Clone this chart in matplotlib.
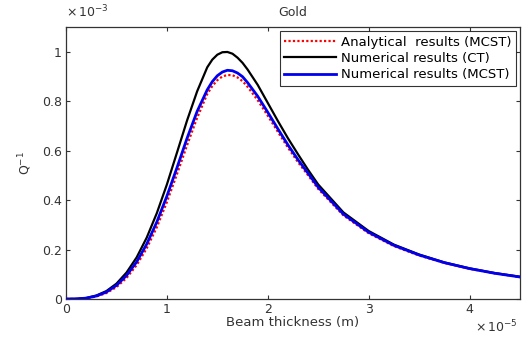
#!/usr/bin/env python3
"""Gold beam: thermoelastic damping Q^-1 vs beam thickness (MATLAB-style look)."""

import matplotlib
matplotlib.use('Agg')
import matplotlib.pyplot as plt

plt.rcParams['font.family'] = ['DejaVu Sans']
plt.rcParams['mathtext.default'] = 'regular'

# thickness in units of 1e-5 m, damping in units of 1e-3
THICKNESS = [0.0, 0.1, 0.2, 0.3, 0.4, 0.5, 0.6, 0.7, 0.8, 0.9, 1.0, 1.1, 1.2, 1.3,
             1.4, 1.45, 1.5, 1.55, 1.6, 1.65, 1.7, 1.75, 1.8, 1.9, 2.0, 2.1, 2.2,
             2.3, 2.4, 2.5, 2.75, 3.0, 3.25, 3.5, 3.75, 4.0, 4.25, 4.5]

Q_CT = [0.0, 0.0005, 0.004, 0.014, 0.032, 0.062, 0.107, 0.168, 0.248, 0.347,
        0.463, 0.592, 0.722, 0.840, 0.937, 0.968, 0.988, 0.998, 0.999, 0.992,
        0.976, 0.955, 0.928, 0.866, 0.793, 0.720, 0.650, 0.585, 0.522, 0.463,
        0.350, 0.275, 0.220, 0.180, 0.148, 0.124, 0.105, 0.090]

Q_MCST_NUM = [0.0, 0.0004, 0.0035, 0.012, 0.028, 0.055, 0.095, 0.150, 0.222,
              0.311, 0.416, 0.531, 0.650, 0.759, 0.846, 0.879, 0.903, 0.918,
              0.925, 0.923, 0.914, 0.899, 0.875, 0.820, 0.755, 0.688, 0.623,
              0.563, 0.508, 0.452, 0.343, 0.270, 0.217, 0.178, 0.147, 0.123,
              0.104, 0.089]

Q_MCST_ANA = [0.0, 0.0003, 0.003, 0.010, 0.024, 0.048, 0.085, 0.137, 0.205,
              0.290, 0.392, 0.505, 0.622, 0.733, 0.829, 0.861, 0.885, 0.900,
              0.906, 0.905, 0.896, 0.881, 0.858, 0.804, 0.741, 0.676, 0.612,
              0.553, 0.500, 0.445, 0.338, 0.266, 0.214, 0.176, 0.146, 0.122,
              0.104, 0.089]

LABELS = ['Analytical  results (MCST)', 'Numerical results (CT)',
          'Numerical results (MCST)']

X_TICKS = [0, 1, 2, 3, 4]
Y_TICKS = [0, 0.2, 0.4, 0.6, 0.8, 1]
Y_TICKLABELS = ['0', '0.2', '0.4', '0.6', '0.8', '1']

AXIS_COLOR = '#333333'
TEXT_COLOR = '#333333'
FS = 9
FS_LEG = 9.5


def main():
    fig = plt.figure(figsize=(5.22, 3.37), dpi=100, facecolor='white')
    ax = fig.add_axes([66 / 522, 1 - 299 / 337, 454 / 522, 272 / 337])

    ax.plot(THICKNESS, Q_MCST_ANA, color='red', lw=1.6, ls=(0, (1, 1)),
            label=LABELS[0], zorder=3)
    ax.plot(THICKNESS, Q_CT, color='black', lw=1.6, label=LABELS[1], zorder=2)
    ax.plot(THICKNESS, Q_MCST_NUM, color='#0000ee', lw=2.0, label=LABELS[2],
            zorder=4)

    ax.set_xlim(0, 4.5)
    ax.set_ylim(0, 1.1)
    ax.set_xticks(X_TICKS)
    ax.set_yticks(Y_TICKS)
    ax.set_yticklabels(Y_TICKLABELS)
    ax.tick_params(direction='in', length=3, width=0.8, colors=AXIS_COLOR,
                   labelsize=FS, top=True, right=True, pad=3)
    for s in ax.spines.values():
        s.set_color(AXIS_COLOR)
        s.set_linewidth(0.9)

    ax.set_title('Gold', fontsize=FS, color=TEXT_COLOR, pad=8)
    ax.set_xlabel('Beam thickness (m)', fontsize=FS_LEG, color=TEXT_COLOR,
                  labelpad=0)
    ax.set_ylabel('$Q^{-1}$', fontsize=FS, color=TEXT_COLOR, labelpad=6)

    ax.text(0.0, 0.055 + 1.0, r'$\times\,10^{-3}$', transform=ax.transAxes,
            fontsize=FS, color=TEXT_COLOR, ha='left', va='center')
    ax.text(0.995, -0.103, r'$\times\,10^{-5}$', transform=ax.transAxes,
            fontsize=FS, color=TEXT_COLOR, ha='right', va='center')

    leg = ax.legend(loc='upper right', fontsize=FS_LEG, frameon=True,
                    fancybox=False, borderaxespad=0.3, handlelength=3.9,
                    handletextpad=0.4, labelspacing=0.25, borderpad=0.35)
    leg.get_frame().set_edgecolor('black')
    leg.get_frame().set_linewidth(0.8)

    fig.savefig('out.png', dpi=100, facecolor='white')
    plt.close(fig)


if __name__ == '__main__':
    main()
